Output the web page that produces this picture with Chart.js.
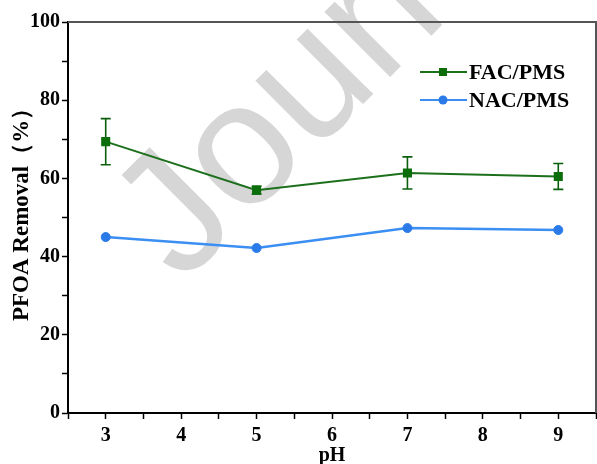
<!DOCTYPE html>
<html lang="en">
  <head>
    <meta charset="UTF-8" />
    <title>PFOA Removal vs pH</title>
    <script src="https://cdn.jsdelivr.net/npm/chart.js"></script>
    <style>
      html, body { margin: 0; padding: 0; background: #fff; }
      canvas { display: block; }
    </style>
  </head>
  <body>
    <canvas id="myChart" width="597" height="464"></canvas>

    <script>
      // values
      const phValues = [3, 5, 7, 9];
      const facRemoval = [69.4, 57.0, 61.4, 60.5];
      const facError = [5.9, 1.0, 4.1, 3.3];
      const nacRemoval = [45.0, 42.2, 47.3, 46.8];
      const xTickLabels = [3, 4, 5, 6, 7, 8, 9];
      const yTickLabels = [0, 20, 40, 60, 80, 100];

      Chart.defaults.font.family = '"Liberation Serif", "Times New Roman", serif';
      Chart.defaults.color = '#000';

      // faint "Journal Pre-proof" stamp behind everything
      const watermark = {
        id: 'watermark',
        beforeDraw(chart) {
          const ctx = chart.ctx;
          ctx.save();
          ctx.translate(182, 285);
          ctx.rotate(-45 * Math.PI / 180);
          ctx.font = '175px "Liberation Sans", Arial, sans-serif';
          ctx.fillStyle = '#d6d6d6';
          ctx.fillText('Journal Pre-proof', 0, 0);
          ctx.restore();
        }
      };

      // vertical error bars with caps, drawn under the markers
      const errorBars = {
        id: 'errorBars',
        beforeDatasetsDraw(chart) {
          const ctx = chart.ctx;
          const xs = chart.scales.x, ys = chart.scales.y;
          ctx.save();
          ctx.strokeStyle = '#0b5e0b';
          ctx.lineWidth = 1.6;
          phValues.forEach((ph, i) => {
            const x = xs.getPixelForValue(ph);
            const top = ys.getPixelForValue(facRemoval[i] + facError[i]);
            const bot = ys.getPixelForValue(facRemoval[i] - facError[i]);
            ctx.beginPath();
            ctx.moveTo(x, top); ctx.lineTo(x, bot);
            ctx.moveTo(x - 5, top); ctx.lineTo(x + 5, top);
            ctx.moveTo(x - 5, bot); ctx.lineTo(x + 5, bot);
            ctx.stroke();
          });
          ctx.restore();
        }
      };

      // top/right frame and the legend inside the plot
      const frameAndLegend = {
        id: 'frameAndLegend',
        afterDraw(chart) {
          const ctx = chart.ctx;
          const a = chart.chartArea;
          ctx.save();
          ctx.strokeStyle = '#555';
          ctx.lineWidth = 2;
          ctx.beginPath();
          ctx.moveTo(a.left, a.top);
          ctx.lineTo(a.right, a.top);
          ctx.lineTo(a.right, a.bottom);
          ctx.stroke();

          const rows = [72, 100];
          chart.data.datasets.forEach((ds, i) => {
            const y = rows[i];
            ctx.strokeStyle = ds.borderColor;
            ctx.lineWidth = 2;
            ctx.beginPath();
            ctx.moveTo(420, y); ctx.lineTo(467, y);
            ctx.stroke();
            ctx.fillStyle = ds.pointBackgroundColor;
            if (ds.pointStyle === 'rect') {
              ctx.fillRect(443 - 4, y - 4, 8, 8);
            } else {
              ctx.beginPath();
              ctx.arc(443, y, 4.5, 0, Math.PI * 2);
              ctx.fill();
            }
            ctx.fillStyle = '#000';
            ctx.font = 'bold 22px "Liberation Serif", serif';
            ctx.textAlign = 'left';
            ctx.textBaseline = 'middle';
            ctx.fillText(ds.label, 469, y + 1);
          });
          ctx.restore();
        }
      };

      const ctx = document.getElementById('myChart').getContext('2d');
      const myChart = new Chart(ctx, {
        type: 'line',
        data: {
          datasets: [
            {
              label: 'FAC/PMS',
              data: phValues.map((x, i) => ({ x: x, y: facRemoval[i] })),
              borderColor: '#1c701c',
              backgroundColor: '#0b6e0b',
              pointBackgroundColor: '#0b6e0b',
              pointBorderColor: '#0b6e0b',
              pointStyle: 'rect',
              pointRadius: 5,
              borderWidth: 2,
              tension: 0
            },
            {
              label: 'NAC/PMS',
              data: phValues.map((x, i) => ({ x: x, y: nacRemoval[i] })),
              borderColor: '#3b8ef2',
              backgroundColor: '#2a7be8',
              pointBackgroundColor: '#2a7be8',
              pointBorderColor: '#2a7be8',
              pointStyle: 'circle',
              pointRadius: 4.5,
              pointBorderWidth: 1,
              borderWidth: 2.5,
              tension: 0
            }
          ]
        },
        options: {
          responsive: false,
          animation: false,
          layout: {
            autoPadding: false,
            padding: { top: 22, right: 1, left: 0, bottom: 0 }
          },
          plugins: {
            legend: { display: false },
            tooltip: { enabled: false }
          },
          scales: {
            x: {
              type: 'linear',
              min: 2.5,
              max: 9.5,
              afterFit: (scale) => {
                scale.height = 51;
                scale.paddingLeft = 0;
                scale.paddingRight = 0;
              },
              border: { color: '#000', width: 2 },
              grid: {
                drawOnChartArea: false,
                tickLength: 6,
                tickWidth: 1.5,
                tickColor: '#000'
              },
              ticks: {
                stepSize: 0.5,
                autoSkip: false,
                maxRotation: 0,
                padding: 5,
                font: { size: 20, weight: 'bold' },
                callback: (v) => xTickLabels.includes(v) ? String(v) : ''
              },
              title: {
                display: true,
                text: 'pH',
                font: { size: 20, weight: 'bold' },
                padding: { top: 0, bottom: -4 }
              }
            },
            y: {
              min: 0,
              max: 100,
              afterFit: (scale) => { scale.width = 68; },
              border: { color: '#000', width: 2 },
              grid: {
                drawOnChartArea: false,
                tickLength: 6,
                tickWidth: 1.5,
                tickColor: '#000'
              },
              ticks: {
                stepSize: 10,
                autoSkip: false,
                padding: 2,
                font: { size: 20, weight: 'bold' },
                callback: (v) => yTickLabels.includes(v) ? String(v) : ''
              },
              title: {
                display: true,
                // leading spaces nudge the centred title upward like the original
                text: '   PFOA Removal（%）',
                font: { size: 23, weight: 'bold' },
                padding: { top: 8, bottom: 0 }
              }
            }
          }
        },
        plugins: [watermark, errorBars, frameAndLegend]
      });
    </script>
  </body>
</html>
